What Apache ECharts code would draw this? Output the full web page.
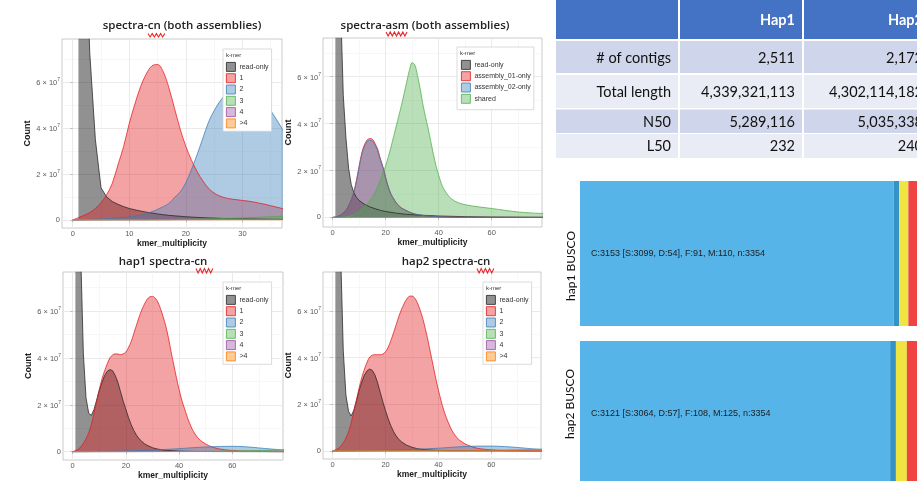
<!DOCTYPE html>
<html>
<head>
<meta charset="utf-8">
<script src="https://cdn.jsdelivr.net/npm/echarts@6/dist/echarts.min.js"></script>
<style>
  html, body { margin: 0; padding: 0; background: #ffffff; }
  #chart { width: 917px; height: 481px; }
</style>
</head>
<body>
<div id="chart"></div>
<script>
// Counts are stored in units of 10^7 k-mers: [multiplicity, count]
const SCALE = 1e7;

// ---- spectra-cn (both assemblies) ----
const cnReadOnly = [[1,40],[2,15],[3,7.3],[4,3.5],[5,1.4],[6,1.0],[7,0.8],[8,0.68],[9,0.58],[10,0.5],[11,0.44],[12,0.39],[13,0.34],[14,0.3],[15,0.26],[16,0.23],[17,0.2],[18,0.18],[19,0.16],[20,0.14],[22,0.11],[24,0.09],[26,0.07],[28,0.055],[30,0.045],[34,0.03],[40,0.015]];
const cn1 = [[0,0],[1,0.1],[2,0.2],[3,0.32],[4,0.5],[5,0.75],[6,1.1],[7,1.6],[8,2.4],[9,3.2],[10,4.2],[11,5.05],[12,5.8],[13,6.35],[14,6.7],[15,6.76],[16,6.45],[17,5.75],[18,4.85],[19,3.95],[20,3.2],[21,2.6],[22,2.1],[23,1.7],[24,1.38],[25,1.17],[26,1.04],[27,0.96],[28,0.91],[29,0.88],[30,0.85],[31,0.82],[32,0.78],[33,0.73],[34,0.68],[35,0.62],[36,0.56],[37,0.5],[38,0.45],[39,0.4],[40,0.36]];
const cn2 = [[0,0],[2,0.01],[4,0.03],[6,0.05],[8,0.09],[10,0.13],[11,0.17],[12,0.21],[13,0.27],[14,0.36],[15,0.46],[16,0.58],[17,0.72],[18,0.98],[19,1.22],[20,1.62],[21,2.2],[22,2.85],[23,3.55],[24,4.25],[25,4.75],[26,5.15],[27,5.45],[28,5.65],[29,5.78],[30,5.82],[31,5.78],[32,5.62],[33,5.4],[34,5.12],[35,4.76],[36,4.38],[37,3.98],[38,3.58],[39,3.18],[40,2.8]];
const cn3 = [[0,0],[10,0.005],[15,0.01],[20,0.025],[25,0.05],[30,0.09],[35,0.14],[40,0.19]];
const cn4 = [[0,0],[20,0.01],[30,0.02],[40,0.03]];
const cnGt4 = [[0,0.01],[40,0.01]];

// ---- spectra-asm (both assemblies) ----
const asmReadOnly = [[1,40],[2,15],[3,9],[4,5.2],[5,3.4],[6,2.1],[7,1.4],[8,1.05],[9,0.85],[10,0.72],[12,0.56],[14,0.45],[16,0.37],[18,0.3],[20,0.25],[24,0.18],[28,0.13],[32,0.1],[40,0.06],[50,0.03],[60,0.015],[80,0.005]];
const asmHap1Only = [[0,0],[1,0.02],[2,0.05],[3,0.1],[4,0.2],[5,0.3],[6,0.5],[7,0.75],[8,1.1],[9,1.6],[10,2.2],[11,2.75],[12,3.1],[13,3.3],[14,3.36],[15,3.33],[16,3.15],[17,2.9],[18,2.5],[19,2.15],[20,1.7],[21,1.3],[22,1.0],[23,0.8],[24,0.62],[25,0.5],[26,0.4],[28,0.28],[30,0.18],[32,0.12],[35,0.07],[40,0.03],[45,0.01],[50,0.005],[80,0]];
const asmHap2Only = [[0,0],[1,0.02],[2,0.05],[3,0.1],[4,0.19],[5,0.29],[6,0.48],[7,0.73],[8,1.07],[9,1.56],[10,2.15],[11,2.69],[12,3.04],[13,3.23],[14,3.29],[15,3.26],[16,3.08],[17,2.84],[18,2.45],[19,2.1],[20,1.66],[21,1.27],[22,0.98],[23,0.78],[24,0.61],[25,0.49],[26,0.39],[28,0.27],[30,0.18],[32,0.12],[35,0.07],[40,0.03],[45,0.01],[50,0.005],[80,0]];
const asmShared = [[0,0],[4,0.01],[6,0.04],[8,0.12],[10,0.25],[12,0.45],[14,0.7],[16,1.05],[18,1.6],[20,2.2],[22,3.0],[24,3.9],[25,4.35],[26,4.8],[27,5.3],[28,5.8],[29,6.3],[30,6.6],[31,6.5],[32,6.05],[33,5.5],[34,4.85],[35,4.3],[36,3.8],[37,3.25],[38,2.7],[39,2.2],[40,1.8],[41,1.45],[42,1.2],[44,0.88],[46,0.7],[48,0.6],[50,0.54],[55,0.45],[60,0.38],[65,0.3],[70,0.23],[75,0.19],[80,0.16]];

// ---- hap1 spectra-cn ----
const hap1ReadOnly = [[1,40],[2,15],[3,8.5],[4,4.2],[5,2.3],[6,1.65],[7,1.55],[8,1.8],[9,2.2],[10,2.62],[11,2.95],[12,3.25],[13,3.43],[14,3.5],[15,3.45],[16,3.25],[17,2.95],[18,2.55],[19,2.15],[20,1.8],[21,1.45],[22,1.15],[23,0.9],[24,0.7],[25,0.55],[26,0.43],[27,0.34],[28,0.27],[30,0.17],[32,0.11],[35,0.06],[40,0.025],[45,0.01],[55,0.005],[80,0]];
const hap1One = [[0,0],[1,0.05],[2,0.1],[3,0.2],[4,0.35],[5,0.55],[6,0.8],[7,1.15],[8,1.65],[9,2.15],[10,2.65],[11,3.1],[12,3.45],[13,3.75],[14,4.0],[15,4.12],[16,4.17],[17,4.16],[18,4.14],[19,4.17],[20,4.25],[21,4.45],[22,4.7],[23,5.05],[24,5.4],[25,5.75],[26,6.05],[27,6.3],[28,6.5],[29,6.6],[30,6.62],[31,6.55],[32,6.38],[33,6.1],[34,5.75],[35,5.35],[36,4.85],[37,4.25],[38,3.7],[39,3.15],[40,2.65],[41,2.2],[42,1.85],[43,1.5],[44,1.2],[45,0.95],[46,0.75],[47,0.6],[48,0.48],[50,0.33],[52,0.22],[55,0.12],[60,0.05],[65,0.02],[70,0.01],[80,0]];
const hap1Two = [[0,0],[10,0.01],[20,0.03],[30,0.07],[40,0.13],[45,0.17],[50,0.2],[55,0.22],[60,0.23],[65,0.21],[70,0.16],[75,0.11],[80,0.07]];
const hap1Three = [[0,0],[20,0.005],[40,0.01],[50,0.015],[60,0.03],[70,0.05],[80,0.07]];
const hap1Four = [[0,0],[40,0.005],[60,0.01],[80,0.02]];
const hap1Gt4 = [[0,0.005],[80,0.01]];

// ---- hap2 spectra-cn ----
const hap2ReadOnly = [[1,40],[2,15],[3,8.5],[4,4.3],[5,2.4],[6,1.7],[7,1.5],[8,1.75],[9,2.15],[10,2.6],[11,2.95],[12,3.25],[13,3.43],[14,3.51],[15,3.45],[16,3.25],[17,2.92],[18,2.5],[19,2.1],[20,1.72],[21,1.38],[22,1.08],[23,0.84],[24,0.65],[25,0.5],[26,0.4],[27,0.32],[28,0.25],[30,0.16],[32,0.1],[35,0.055],[40,0.02],[45,0.01],[55,0.005],[80,0]];
const hap2One = [[0,0],[1,0.05],[2,0.1],[3,0.2],[4,0.35],[5,0.55],[6,0.82],[7,1.2],[8,1.7],[9,2.2],[10,2.7],[11,3.15],[12,3.5],[13,3.8],[14,4.02],[15,4.1],[16,4.12],[17,4.12],[18,4.12],[19,4.15],[20,4.25],[21,4.45],[22,4.72],[23,5.05],[24,5.4],[25,5.75],[26,6.05],[27,6.3],[28,6.5],[29,6.62],[30,6.63],[31,6.55],[32,6.35],[33,6.05],[34,5.7],[35,5.25],[36,4.75],[37,4.2],[38,3.65],[39,3.1],[40,2.6],[41,2.15],[42,1.75],[43,1.42],[44,1.15],[45,0.9],[46,0.72],[47,0.57],[48,0.46],[50,0.31],[52,0.21],[55,0.11],[60,0.05],[65,0.02],[70,0.01],[80,0]];
const hap2Two = [[0,0],[10,0.01],[20,0.03],[30,0.07],[40,0.12],[45,0.16],[50,0.19],[55,0.21],[60,0.21],[65,0.19],[70,0.15],[75,0.1],[80,0.07]];
const hap2Three = [[0,0],[20,0.005],[40,0.01],[50,0.015],[60,0.03],[70,0.05],[80,0.07]];
const hap2Four = [[0,0],[40,0.005],[60,0.01],[80,0.02]];
const hap2Gt4 = [[0,0.005],[80,0.01]];

// ---- axis ticks ----
const cnXTicks = [0, 10, 20, 30];
const cnXMinor = [5, 15, 25, 35];
const wideXTicks = [0, 20, 40, 60];
const wideXMinor = [10, 30, 50, 70];
const countTicks = [0, 2, 4, 6];
const countMinor = [1, 3, 5, 7];

// ---- assembly statistics table ----
const statColumns = ['', 'Hap1', 'Hap2'];
const statNames = ['# of contigs', 'Total length', 'N50', 'L50'];
const hap1Stats = [2511, 4339321113, 5289116, 232];
const hap2Stats = [2172, 4302114182, 5035338, 240];

// ---- BUSCO ----
const buscoNames = ['hap1 BUSCO', 'hap2 BUSCO'];
const buscoSingle = [3099, 3064];
const buscoDuplicated = [54, 57];
const buscoFragmented = [91, 108];
const buscoMissing = [110, 125];
const buscoTotal = [3354, 3354];

const FONT = '"Liberation Sans", Arial, sans-serif';
const KMER_STYLE = {
  'read-only': ['#242424', 'rgba(0,0,0,0.43)'],
  '1': ['#E41A1C', 'rgba(228,26,28,0.4)'],
  '2': ['#377EB8', 'rgba(55,126,184,0.4)'],
  '3': ['#4DAF4A', 'rgba(77,175,74,0.4)'],
  '4': ['#984EA3', 'rgba(152,78,163,0.4)'],
  '>4': ['#FF7F00', 'rgba(255,127,0,0.4)'],
  'assembly_01-only': ['#E41A1C', 'rgba(228,26,28,0.4)'],
  'assembly_02-only': ['#377EB8', 'rgba(55,126,184,0.4)'],
  'shared': ['#4DAF4A', 'rgba(77,175,74,0.4)']
};

const PANELS = [
  { title: 'spectra-cn (both assemblies)', titleAt: [182, 26], wave: [148, 165, 33.5, 37],
    grid: { left: 62, top: 39, width: 220, height: 189 }, xRange: [-1.9, 37], yRange: [-0.35, 7.87],
    xTicks: cnXTicks, xMinor: cnXMinor,
    layers: [['read-only', cnReadOnly], ['1', cn1], ['2', cn2], ['3', cn3], ['4', cn4], ['>4', cnGt4]],
    legend: { left: 223, top: 49, padding: [13, 3, 3, 3] } },
  { title: 'spectra-asm (both assemblies)', titleAt: [425, 26], wave: [386, 409, 32, 36],
    grid: { left: 323, top: 38, width: 219, height: 189 }, xRange: [-3.66, 79], yRange: [-0.41, 7.65],
    xTicks: wideXTicks, xMinor: wideXMinor,
    layers: [['read-only', asmReadOnly], ['assembly_01-only', asmHap1Only], ['assembly_02-only', asmHap2Only], ['shared', asmShared]],
    legend: { left: 457, top: 47, padding: [13, 3, 6, 4] } },
  { title: 'hap1 spectra-cn', titleAt: [163, 262], wave: [196, 213, 268.5, 273],
    grid: { left: 63, top: 272, width: 220, height: 188 }, xRange: [-3.65, 79.06], yRange: [-0.354, 7.66],
    xTicks: wideXTicks, xMinor: wideXMinor,
    layers: [['read-only', hap1ReadOnly], ['1', hap1One], ['2', hap1Two], ['3', hap1Three], ['4', hap1Four], ['>4', hap1Gt4]],
    legend: { left: 223, top: 282, padding: [13, 3, 3, 3] } },
  { title: 'hap2 spectra-cn', titleAt: [446, 262], wave: [477, 495, 268.5, 273],
    grid: { left: 323, top: 272, width: 218, height: 187 }, xRange: [-3.67, 78.8], yRange: [-0.342, 7.66],
    xTicks: wideXTicks, xMinor: wideXMinor,
    layers: [['read-only', hap2ReadOnly], ['1', hap2One], ['2', hap2Two], ['3', hap2Three], ['4', hap2Four], ['>4', hap2Gt4]],
    legend: { left: 483, top: 282, padding: [13, 3, 3, 3] } }
];

const grids = [], xAxes = [], yAxes = [], series = [], legends = [], graphics = [];

function countLabel(v) {
  const m = Math.round(v / SCALE);
  if (m === 0) return '0';
  return '{m|' + m + ' × 10}{e|7}';
}

function wave(x0, x1, yTop, yBot) {
  const pts = [];
  let k = 0;
  for (let x = x0; x <= x1 + 0.01; x += 2.1) { pts.push([x, k % 2 ? yBot : yTop]); k++; }
  return { type: 'polyline', z: 50, shape: { points: pts }, style: { stroke: '#e8262a', lineWidth: 1.1, fill: null } };
}

PANELS.forEach((p, i) => {
  grids.push(Object.assign({ show: true, backgroundColor: '#ffffff', borderColor: '#bdbdbd', borderWidth: 0.8,
    containLabel: false, outerBoundsMode: 'none' }, p.grid));

  const axisText = { fontSize: 7.5, color: '#5a5a5a', fontFamily: FONT };
  xAxes.push({
    gridIndex: i, type: 'value', min: p.xRange[0], max: p.xRange[1], position: 'bottom',
    name: 'kmer_multiplicity', nameLocation: 'middle', nameGap: 7,
    nameTextStyle: { fontSize: 8.5, fontWeight: 'bold', color: '#1a1a1a', fontFamily: FONT },
    axisLine: { show: false },
    axisTick: { show: true, length: 2.5, lineStyle: { color: '#b3b3b3', width: 0.8 }, customValues: p.xTicks },
    axisLabel: Object.assign({ margin: 2, customValues: p.xTicks }, axisText),
    splitLine: { show: true, lineStyle: { color: '#e4e4e4', width: 0.8 } },
    minorTick: { show: false }, minorSplitLine: { show: false }
  });
  xAxes.push({
    gridIndex: i, type: 'value', min: p.xRange[0], max: p.xRange[1], position: 'top',
    axisLine: { show: false }, axisTick: { show: false, customValues: p.xMinor },
    axisLabel: { show: false, customValues: p.xMinor },
    splitLine: { show: true, lineStyle: { color: '#f1f1f1', width: 0.6 } }
  });
  yAxes.push({
    gridIndex: i, type: 'value', min: p.yRange[0] * SCALE, max: p.yRange[1] * SCALE, position: 'left',
    name: 'Count', nameLocation: 'middle', nameGap: 27, nameRotate: 90,
    nameTextStyle: { fontSize: 9, fontWeight: 'bold', color: '#1a1a1a', fontFamily: FONT },
    axisLine: { show: false },
    axisTick: { show: true, length: 2.5, lineStyle: { color: '#b3b3b3', width: 0.8 }, customValues: countTicks.map(v => v * SCALE) },
    axisLabel: {
      margin: 2, customValues: countTicks.map(v => v * SCALE), formatter: countLabel, color: '#5a5a5a', fontFamily: FONT, fontSize: 7.5,
      rich: {
        m: { fontSize: 7.5, color: '#5a5a5a', fontFamily: FONT, lineHeight: 10, verticalAlign: 'bottom' },
        e: { fontSize: 5, color: '#5a5a5a', fontFamily: FONT, lineHeight: 10, verticalAlign: 'top' }
      }
    },
    splitLine: { show: true, lineStyle: { color: '#e4e4e4', width: 0.8 } }
  });
  yAxes.push({
    gridIndex: i, type: 'value', min: p.yRange[0] * SCALE, max: p.yRange[1] * SCALE, position: 'right',
    axisLine: { show: false }, axisTick: { show: false, customValues: countMinor.map(v => v * SCALE) },
    axisLabel: { show: false, customValues: countMinor.map(v => v * SCALE) },
    splitLine: { show: true, lineStyle: { color: '#f1f1f1', width: 0.6 } }
  });

  p.layers.forEach(([name, pts]) => {
    const [line, fill] = KMER_STYLE[name];
    series.push({
      name, type: 'line', xAxisIndex: 2 * i, yAxisIndex: 2 * i,
      data: pts.map(([x, y]) => [x, y * SCALE]),
      showSymbol: false, symbol: 'none', smooth: name === 'read-only' ? false : 0.35,
      clip: true, silent: true,
      lineStyle: { color: line, width: 0.75 },
      itemStyle: { color: line },
      areaStyle: { color: fill, opacity: 1 },
      emphasis: { disabled: true }
    });
  });

  legends.push({
    orient: 'vertical', left: p.legend.left, top: p.legend.top, padding: p.legend.padding,
    itemWidth: 9, itemHeight: 9, itemGap: 1.5, icon: 'rect', selectedMode: false,
    backgroundColor: '#ffffff', borderColor: '#d2d2d2', borderWidth: 0.8,
    textStyle: { fontSize: 7, color: '#333333', fontFamily: FONT, padding: [0, 0, 0, -1] },
    data: p.layers.map(([name]) => ({
      name, itemStyle: { color: KMER_STYLE[name][1], borderColor: KMER_STYLE[name][0], borderWidth: 0.8 }
    }))
  });

  graphics.push({
    type: 'text', z: 100, x: p.legend.left + 3, y: p.legend.top + 6,
    style: { text: 'k-mer', font: '6px ' + FONT, fill: '#333333', verticalAlign: 'middle' }
  });
  graphics.push({
    type: 'text', z: 50, x: p.titleAt[0], y: p.titleAt[1],
    style: { text: p.title, font: '600 11.5px "Open Sans", sans-serif', fill: '#222222', align: 'center', verticalAlign: 'middle' }
  });
  graphics.push(wave(...p.wave));
});

// ---- BUSCO stacked bars ----
const bi = PANELS.length;
grids.push({ left: 580, top: 173.5, width: 339.5, height: 320, containLabel: false, outerBoundsMode: 'none' });
xAxes.push({ gridIndex: bi, type: 'value', min: 0, max: buscoTotal[0], show: false });
yAxes.push({ gridIndex: bi, type: 'category', data: buscoNames, inverse: true, show: false });
const buscoParts = [
  ['Complete (single)', buscoSingle, '#56B4E9'],
  ['Complete (duplicated)', buscoDuplicated, '#3492C7'],
  ['Fragmented', buscoFragmented, '#F0E442'],
  ['Missing', buscoMissing, '#F04442']
];
buscoParts.forEach(([name, vals, color], k) => {
  series.push({
    name, type: 'bar', stack: 'busco', xAxisIndex: 2 * bi, yAxisIndex: 2 * bi,
    data: vals, barWidth: 145, silent: true,
    itemStyle: { color },
    label: k === 0 ? {
      show: true, position: 'insideLeft', distance: 11, color: '#1e1e1e', fontSize: 9, fontFamily: FONT,
      formatter: (prm) => {
        const j = prm.dataIndex;
        return 'C:' + (buscoSingle[j] + buscoDuplicated[j]) + ' [S:' + buscoSingle[j] + ', D:' + buscoDuplicated[j] +
          '], F:' + buscoFragmented[j] + ', M:' + buscoMissing[j] + ', n:' + buscoTotal[j];
      }
    } : { show: false }
  });
});
// rotated row captions for the BUSCO bars
const buscoCaptionAt = [[571, 266], [570, 404]];
buscoNames.forEach((name, j) => {
  graphics.push({
    type: 'text', z: 50, x: buscoCaptionAt[j][0], y: buscoCaptionAt[j][1], rotation: Math.PI / 2,
    style: { text: name, font: '12px Lato, sans-serif', fill: '#111111', align: 'center', verticalAlign: 'middle' }
  });
});

// ---- statistics table ----
const colX = [556, 680, 804];
const colW = [122, 122, 126];
const rowTop = [0, 41, 75, 109.5, 134];
const rowH = [39, 32, 33, 23.5, 24];
const rowTextY = [20, 58.5, 92, 122, 146.5];
const fmt = (v) => v.toLocaleString('en-US');
const tableRows = [statColumns].concat(statNames.map((n, r) => [n, fmt(hap1Stats[r]), fmt(hap2Stats[r])]));
tableRows.forEach((cells, r) => {
  cells.forEach((txt, c) => {
    graphics.push({
      type: 'rect', z: 1, shape: { x: colX[c], y: rowTop[r], width: colW[c], height: rowH[r] },
      style: { fill: r === 0 ? '#4472C4' : (r % 2 === 1 ? '#CFD5EA' : '#E9EBF5') }
    });
    if (txt) {
      graphics.push({
        type: 'text', z: 2, x: colX[c] + colW[c] - 7, y: rowTextY[r],
        style: { text: txt, font: (r === 0 ? 'bold ' : '') + '14.5px Lato, sans-serif',
          fill: r === 0 ? '#ffffff' : '#111111', align: 'right', verticalAlign: 'middle' }
      });
    }
  });
});

const chart = echarts.init(document.getElementById('chart'), null, { renderer: 'canvas' });
chart.setOption({
  animation: false,
  backgroundColor: '#ffffff',
  textStyle: { fontFamily: FONT },
  grid: grids,
  xAxis: xAxes,
  yAxis: yAxes,
  legend: legends,
  series: series,
  graphic: { elements: graphics }
});
</script>
</body>
</html>
